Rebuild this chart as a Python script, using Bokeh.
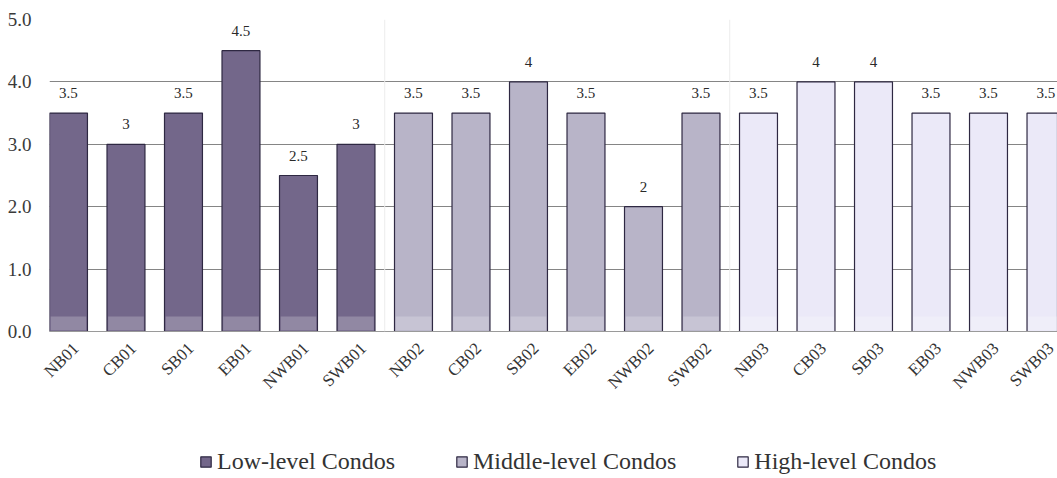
import math
from bokeh.plotting import figure
from bokeh.layouts import column
from bokeh.models import (ColumnDataSource, Range1d, FixedTicker, NumeralTickFormatter,
                          LabelSet, Legend, LegendItem, Span, CustomJSTickFormatter)
from bokeh.embed import file_html
from bokeh.resources import INLINE

# ---- data ----
low_names = ["NB01", "CB01", "SB01", "EB01", "NWB01", "SWB01"]
low_values = [3.5, 3, 3.5, 4.5, 2.5, 3]
mid_names = ["NB02", "CB02", "SB02", "EB02", "NWB02", "SWB02"]
mid_values = [3.5, 3.5, 4, 3.5, 2, 3.5]
high_names = ["NB03", "CB03", "SB03", "EB03", "NWB03", "SWB03"]
high_values = [3.5, 4, 4, 3.5, 3.5, 3.5]
series_names = ["Low-level Condos", "Middle-level Condos", "High-level Condos"]
y_ticks = [0, 1, 2, 3, 4, 5]

colors = ["#73678a", "#b8b4c8", "#ebe9f8"]
FONT = "Liberation Serif"
LABEL_SHIFT = 0.13

all_names = low_names + mid_names + high_names

p = figure(width=1057, height=410, output_backend="svg", toolbar_location=None,
           x_range=Range1d(-0.33, 17.2), y_range=Range1d(0, 5),
           min_border_left=49, min_border_top=19, min_border_right=0,
           min_border_bottom=79)
p.outline_line_color = None
p.background_fill_color = "white"

# faint group separators
for xs in [5.5, 11.5]:
    p.add_layout(Span(location=xs, dimension="height", line_color="#ececec", line_width=1))

renderers = []
offset = 0
for names, vals, col in [(low_names, low_values, colors[0]),
                         (mid_names, mid_values, colors[1]),
                         (high_names, high_values, colors[2])]:
    xs = [offset + i for i in range(len(names))]
    src = ColumnDataSource(dict(x=xs, top=vals, lab=[("%g" % v) for v in vals]))
    r = p.vbar(x="x", top="top", width=0.66, source=src, fill_color=col,
               line_color="#2e2842", line_width=1.2)
    # lighter band at bar bottoms (scan look)
    p.vbar(x="x", top=0.24, bottom=0.02, width=0.62, source=src, fill_color="white",
           fill_alpha=0.22, line_color=None)
    renderers.append((col, r))
    ls = LabelSet(x="x", y="top", text="lab", source=src, y_offset=15,
                  text_align="center", text_baseline="alphabetic",
                  text_font=FONT, text_font_size="15px", text_color="#2a2a2a")
    p.add_layout(ls)
    offset += len(names)

# grid
p.xgrid.grid_line_color = None
p.ygrid.grid_line_color = "#858585"
p.ygrid.grid_line_width = 1
p.ygrid.ticker = FixedTicker(ticks=y_ticks)

# y axis
p.yaxis.ticker = FixedTicker(ticks=y_ticks)
p.yaxis.formatter = NumeralTickFormatter(format="0.0")
p.yaxis.axis_line_color = None
p.yaxis.major_tick_line_color = None
p.yaxis.minor_tick_line_color = None
p.yaxis.major_label_text_font = FONT
p.yaxis.major_label_text_font_size = "19px"
p.yaxis.major_label_text_color = "#3a3a3a"
p.yaxis.major_label_standoff = 12

# x axis (labels shifted slightly right like the reference)
p.xaxis.ticker = FixedTicker(ticks=[i + LABEL_SHIFT for i in range(len(all_names))])
p.xaxis.formatter = CustomJSTickFormatter(args=dict(names=all_names, shift=LABEL_SHIFT),
                                          code="return names[Math.round(tick - shift)];")
p.xaxis.major_label_orientation = math.pi / 4
p.xaxis.axis_line_color = "#9a9a9a"
p.xaxis.major_tick_line_color = None
p.xaxis.minor_tick_line_color = None
p.xaxis.major_label_text_font = FONT
p.xaxis.major_label_text_font_size = "17px"
p.xaxis.major_label_text_color = "#333333"
p.xaxis.major_label_standoff = 8

# legend strip (separate figure so the legend is not clipped)
lg = figure(width=1057, height=68, output_backend="svg", toolbar_location=None,
            x_axis_location=None, y_axis_location=None,
            min_border=0, x_range=Range1d(0, 1), y_range=Range1d(0, 1))
lg.outline_line_color = None
lg.grid.visible = False
items = []
for name, (col, _) in zip(series_names, renderers):
    # legend proxy placed outside the visible range
    proxy = lg.vbar(x=[0.5], top=[-5], bottom=[-6], width=0.1, fill_color=col,
                    line_color="#2e2842", line_width=1.2)
    items.append(LegendItem(label=name, renderers=[proxy]))
legend = Legend(items=items, orientation="horizontal", location=(150, 3),
                label_text_font=FONT, label_text_font_size="24px", label_text_color="#333333",
                glyph_width=13, glyph_height=13, label_standoff=5, spacing=60,
                border_line_color=None, background_fill_alpha=0, margin=0, padding=0)
lg.add_layout(legend, "center")

layout = column(p, lg, spacing=0)
open("out.html", "w").write(file_html(layout, INLINE))
